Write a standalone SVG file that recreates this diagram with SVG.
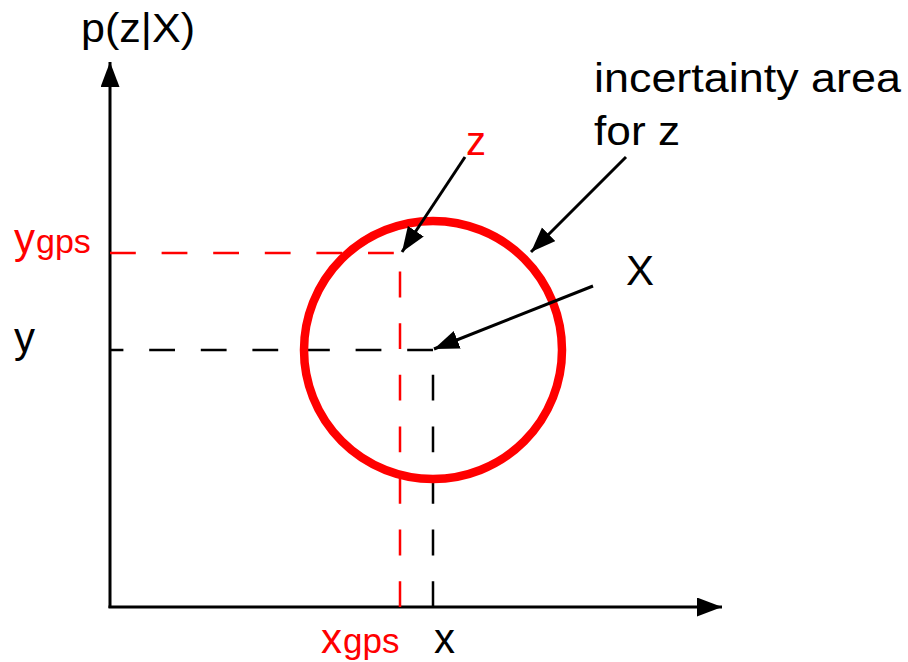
<svg xmlns="http://www.w3.org/2000/svg" width="908" height="662" viewBox="0 0 908 662">
<style>
text{font-family:"Liberation Sans",Arial,sans-serif;font-size:40px;fill:#000}
.red{fill:#ff0000}
.ax{stroke:#000;stroke-width:3;fill:none}
.dk{stroke:#000;stroke-width:2.5;fill:none;stroke-dasharray:25.8 25.8}
.dr{stroke:#ff0000;stroke-width:2.5;fill:none;stroke-dasharray:25.8 25.8}
.ar{stroke:#000;stroke-width:3;fill:none}
</style>
<defs>
<marker id="ah" markerUnits="userSpaceOnUse" markerWidth="26" markerHeight="20" refX="25" refY="9.5" orient="auto">
<path d="M0,0 L25,9.5 L0,19 Z" fill="#000"/>
</marker>
</defs>
<g id="axes">
<line class="ax" x1="110" y1="608" x2="110" y2="62" marker-end="url(#ah)"/>
<line class="ax" x1="108.5" y1="607" x2="722" y2="607" marker-end="url(#ah)"/>
</g>
<g id="guides">
<line class="dr" x1="110" y1="253" x2="400" y2="253"/>
<line class="dr" x1="400" y1="607" x2="400" y2="253"/>
<line class="dk" x1="433" y1="350" x2="110" y2="350"/>
<line class="dk" x1="433" y1="607" x2="433" y2="350"/>
</g>
<g id="circle">
<circle cx="433" cy="350" r="129" fill="none" stroke="#ff0000" stroke-width="8.5"/>
</g>
<g id="connectors">
<line class="ar" x1="465" y1="157" x2="402" y2="252" marker-end="url(#ah)"/>
<line class="ar" x1="626" y1="157" x2="531" y2="252" marker-end="url(#ah)"/>
<line class="ar" x1="593" y1="286" x2="434" y2="349" marker-end="url(#ah)"/>
</g>
<g id="labels">
<text x="81" y="42" textLength="114" lengthAdjust="spacingAndGlyphs">p(z|X)</text>
<text x="594" y="92" textLength="307" lengthAdjust="spacingAndGlyphs">incertainty area</text>
<text x="594" y="145" textLength="86" lengthAdjust="spacingAndGlyphs">for z</text>
<text class="red" x="466" y="155">z</text>
<text x="626" y="285" style="font-size:42px">X</text>
<text class="red" x="14" y="253" style="font-size:42px">y</text>
<text class="red" x="36" y="253" style="font-size:34px">gps</text>
<text x="14" y="352" style="font-size:42px">y</text>
<text class="red" x="321" y="653" style="font-size:42px">x</text>
<text class="red" x="343" y="653" style="font-size:35px">gps</text>
<text x="434" y="653" style="font-size:42px">x</text>
</g>
</svg>
